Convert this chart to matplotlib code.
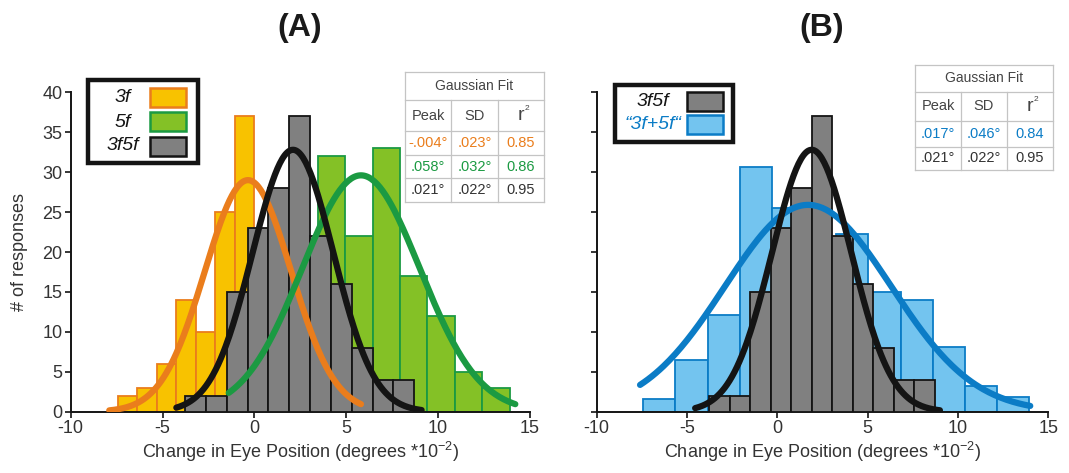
import matplotlib
matplotlib.use("Agg")
import matplotlib.pyplot as plt
import numpy as np
from matplotlib.patches import Rectangle
from matplotlib.lines import Line2D

plt.rcParams["font.family"] = ["Liberation Sans", "DejaVu Sans"]
plt.rcParams["mathtext.fontset"] = "custom"
plt.rcParams["mathtext.rm"] = "Liberation Sans"
plt.rcParams["mathtext.it"] = "Liberation Sans:italic"
plt.rcParams["axes.unicode_minus"] = False

# ---- data (x in degrees*10^-2, y = # of responses) ----
BINS_3F = [-7.43, 1.06]          # first bin edge, bin width
COUNTS_3F = [2, 3, 6, 14, 10, 25, 37]
BINS_5F = [3.46, 1.49]
COUNTS_5F = [32, 22, 33, 17, 12, 5, 3]
BINS_3F5F = [-3.78, 1.135]
COUNTS_3F5F = [2, 2, 15, 23, 28, 37, 22, 16, 8, 4, 4]
BINS_SUM = [-7.42, 1.78]
COUNTS_SUM = [1.6, 6.5, 12.1, 30.6, 25.5, 21, 22.2, 15, 14, 8.1, 3.2, 1.8]

# gaussian fits: amplitude, peak, sd, drawn from, drawn to
FIT_3F = [29.0, -0.35, 2.35, -7.9, 5.8]
FIT_5F = [29.6, 5.8, 3.2, -1.4, 14.2]
FIT_3F5F_A = [32.8, 2.1, 2.2, -4.25, 9.1]
FIT_3F5F_B = [32.8, 1.9, 2.2, -4.55, 9.0]
FIT_SUM = [25.9, 1.7, 4.6, -7.6, 14.0]

TABLE_A = [["-.004°", ".023°", "0.85"],
           [".058°", ".032°", "0.86"],
           [".021°", ".022°", "0.95"]]
TABLE_B = [[".017°", ".046°", "0.84"],
           [".021°", ".022°", "0.95"]]

YELLOW, ORANGE = "#f8c200", "#ea7d1c"
LGREEN, DGREEN = "#84c126", "#1b9a42"
GREY, BLACK = "#808080", "#141414"
LBLUE, DBLUE = "#73c4ef", "#0b7cc6"
TXT = "#333333"

W, H = 1069, 473


def fx(x):
    return x / W


def fy(y):
    return 1 - y / H


def hist(ax, bins, counts, face, edge, z):
    start, width = bins
    edges = start + width * np.arange(len(counts))
    ax.bar(edges, counts, width=width, align="edge", color=face,
           edgecolor=edge, linewidth=1.3, zorder=z)


def fit(ax, params, color, z):
    amp, mu, sd, x0, x1 = params
    x = np.linspace(x0, x1, 200)
    ax.plot(x, amp * np.exp(-(x - mu) ** 2 / (2 * sd ** 2)), color=color,
            lw=4.5, solid_capstyle="round", zorder=z)


def style(ax, labels=True):
    ax.set_xlim(-10, 15)
    ax.set_ylim(0, 40)
    ax.set_xticks([-10, -5, 0, 5, 10, 15])
    ax.set_yticks(range(0, 41, 5))
    for s in ["top", "right"]:
        ax.spines[s].set_visible(False)
    for s in ["left", "bottom"]:
        ax.spines[s].set_linewidth(1.4)
        ax.spines[s].set_color(BLACK)
    ax.tick_params(length=4, width=1.2, color=BLACK, labelsize=13,
                   labelcolor=TXT, pad=2)
    if not labels:
        ax.tick_params(axis="y", labelleft=False)
    ax.set_xlabel("Change in Eye Position (degrees *10$^{-2}$)",
                  fontsize=13, color=TXT, labelpad=2)


def legend(fig, box, x_text, x_patch, rows, labels, faces, edges, tcolors):
    x0, y0, x1, y1 = box
    fig.add_artist(Rectangle((fx(x0), fy(y1)), fx(x1 - x0), (y1 - y0) / H,
                             transform=fig.transFigure, facecolor="white",
                             edgecolor=BLACK, linewidth=3.2))
    for yc, lab, fc, ec, tc in zip(rows, labels, faces, edges, tcolors):
        fig.text(fx(x_text), fy(yc), lab, ha="center", va="center",
                 fontsize=14, style="italic", color=tc)
        fig.add_artist(Rectangle((fx(x_patch), fy(yc + 9.5)), 36 / W, 19 / H,
                                 transform=fig.transFigure, facecolor=fc,
                                 edgecolor=ec, linewidth=1.8))


def table(fig, left, top, col_w, row_h, rows, colors):
    lc = "#c4c4c4"
    ys = top + np.concatenate([[0], np.cumsum(row_h)])
    xs = left + col_w * np.arange(4)
    for y in ys:
        fig.add_artist(Line2D([fx(xs[0]), fx(xs[-1])], [fy(y), fy(y)],
                              transform=fig.transFigure, color=lc, lw=0.9))
    for i, x in enumerate(xs):
        y_start = ys[0] if i in (0, 3) else ys[1]
        fig.add_artist(Line2D([fx(x), fx(x)], [fy(y_start), fy(ys[-1])],
                              transform=fig.transFigure, color=lc, lw=0.9))
    fig.text(fx((xs[0] + xs[-1]) / 2), fy((ys[0] + ys[1]) / 2), "Gaussian Fit",
             ha="center", va="center", fontsize=10, color="#444444")
    yh = fy((ys[1] + ys[2]) / 2)
    fig.text(fx(xs[0] + col_w / 2), yh, "Peak", ha="center", va="center",
             fontsize=10.5, color="#444444")
    fig.text(fx(xs[1] + col_w / 2), yh, "SD", ha="center", va="center",
             fontsize=10.5, color="#444444")
    fig.text(fx(xs[2] + col_w / 2), yh, "r", ha="center", va="center",
             fontsize=14, color="#444444")
    fig.text(fx(xs[2] + col_w / 2 + 3.5), yh + 7 / H, "2", ha="left",
             va="center", fontsize=6, color="#444444")
    for i, (row, c) in enumerate(zip(rows, colors)):
        for j, val in enumerate(row):
            fig.text(fx(xs[j] + col_w / 2), fy((ys[i + 2] + ys[i + 3]) / 2), val,
                     ha="center", va="center", fontsize=10.5, color=c)


fig = plt.figure(figsize=(W / 100, H / 100), dpi=100)
ax_a = fig.add_axes([fx(70.7), fy(411.7), 459.3 / W, 319.4 / H])
ax_b = fig.add_axes([fx(596.7), fy(411.7), 451.6 / W, 319.4 / H])

# panel A
hist(ax_a, BINS_3F, COUNTS_3F, YELLOW, ORANGE, 2)
hist(ax_a, BINS_5F, COUNTS_5F, LGREEN, DGREEN, 2.5)
hist(ax_a, BINS_3F5F, COUNTS_3F5F, GREY, BLACK, 3)
fit(ax_a, FIT_3F, ORANGE, 4)
fit(ax_a, FIT_5F, DGREEN, 4.5)
fit(ax_a, FIT_3F5F_A, BLACK, 5)
style(ax_a)
ax_a.set_ylabel("# of responses", fontsize=13, color=TXT, labelpad=10)

# panel B
hist(ax_b, BINS_SUM, COUNTS_SUM, LBLUE, DBLUE, 2)
hist(ax_b, BINS_3F5F, COUNTS_3F5F, GREY, BLACK, 3)
fit(ax_b, FIT_SUM, DBLUE, 4)
fit(ax_b, FIT_3F5F_B, BLACK, 5)
style(ax_b, labels=False)

fig.text(fx(300), fy(28), "(A)", ha="center", va="center", fontsize=23,
         fontweight="bold", color="#1a1a1a")
fig.text(fx(822), fy(28), "(B)", ha="center", va="center", fontsize=23,
         fontweight="bold", color="#1a1a1a")

legend(fig, (88, 80, 198, 163), 123, 150, [98, 122, 146],
       ["3f", "5f", "3f5f"], [YELLOW, LGREEN, GREY], [ORANGE, DGREEN, BLACK],
       [BLACK, BLACK, BLACK])
legend(fig, (615, 85, 733, 142), 653, 687, [101.5, 124.5],
       ["3f5f", "\u201c3f+5f\u201c"], [GREY, LBLUE], [BLACK, DBLUE],
       [BLACK, DBLUE])

table(fig, 405, 72, 46.3, [28.5, 30.5, 23.7, 23.7, 23.7], TABLE_A,
      [ORANGE, DGREEN, TXT])
table(fig, 915, 65, 46, [27, 29, 25.5, 23.5], TABLE_B, [DBLUE, TXT])

fig.savefig("out.png", dpi=100)
